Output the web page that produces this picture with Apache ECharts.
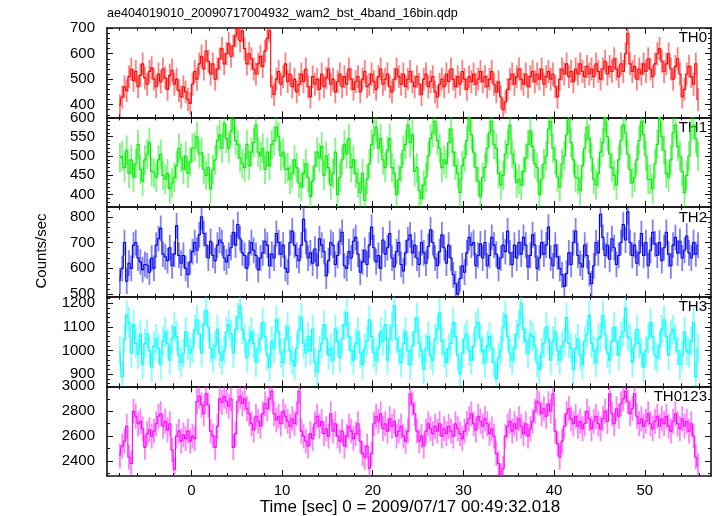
<!DOCTYPE html>
<html>
<head>
<meta charset="utf-8">
<script src="https://cdn.jsdelivr.net/npm/echarts@6/dist/echarts.min.js"></script>
<style>
html,body{margin:0;padding:0;background:#fff;}
#c{width:717px;height:516px;}
</style>
</head>
<body>
<div id="c"></div>
<script>
// ---- data ----
const TITLE = 'ae404019010_20090717004932_wam2_bst_4band_16bin.qdp';
const X_NAME = 'Time [sec] 0 = 2009/07/17 00:49:32.018';
const Y_NAME = 'Counts/sec';
const BAND_NAMES = ['TH0', 'TH1', 'TH2', 'TH3', 'TH0123'];
const T_START = -7.875;   // centre of first bin (s)
const BIN = 0.25;         // bin width (s)
const X_TICKS = [0, 10, 20, 30, 40, 50];
const X_MINOR = [-8,-6,-4,-2,2,4,6,8,12,14,16,18,22,24,26,28,32,34,36,38,42,44,46,48,52,54,56];
const Y_RANGES = [[350, 702], [368, 600], [490, 838], [849, 1228], [2280, 3000]];
const Y_TICKS = [
  [400, 500, 600, 700],
  [400, 450, 500, 550, 600],
  [500, 600, 700, 800],
  [900, 1000, 1100, 1200],
  [2400, 2600, 2800, 3000]
];
const Y_MINOR_STEP = [20, 10, 20, 20, 100];
const ERR = [45, 38, 50, 62, 100];

const TH0 = [
395,430,470,455,510,540,495,530,470,515,560,505,480,530,545,500,
470,520,490,540,505,460,515,535,480,500,455,430,470,450,420,405,
480,530,500,560,590,540,610,570,520,560,500,540,580,620,560,600,
640,590,630,670,700,650,690,620,560,600,580,540,520,560,590,550,
610,660,690,470,440,500,530,480,510,560,490,520,470,500,450,480,
520,490,540,470,430,510,480,500,460,520,470,505,540,480,500,450,
490,520,470,510,480,540,500,460,490,510,450,500,530,470,480,520,
490,460,510,540,480,500,520,470,450,500,540,510,480,520,470,500,
530,490,470,510,480,440,500,520,470,490,510,450,430,480,500,470,
520,490,540,500,470,510,480,530,500,460,510,490,520,480,500,530,
490,510,470,500,530,480,450,490,430,380,410,460,500,520,480,510,
540,500,480,520,470,510,530,490,520,500,540,480,510,530,500,520,
470,430,500,540,520,560,510,530,490,540,520,560,530,510,550,520,
540,510,560,530,500,540,570,520,550,530,580,540,510,560,530,600,
680,560,530,550,500,540,520,560,530,580,540,510,560,600,620,570,
530,560,600,540,500,550,580,520,430,460,520,550,510,480,560,420
];
const TH1 = [
495,500,470,515,455,490,445,480,530,465,435,490,505,535,460,455,
445,490,505,450,440,455,415,430,445,475,520,495,465,500,455,485,
520,525,550,505,510,465,450,470,415,465,490,540,555,520,585,545,
520,565,595,540,530,495,480,470,530,475,510,535,580,510,500,520,
465,510,475,530,540,575,550,500,510,465,470,440,455,490,470,430,
420,455,480,445,395,435,475,510,495,525,450,500,470,425,455,510,
400,445,490,530,505,545,470,490,455,430,405,455,385,440,480,530,
555,575,520,545,490,470,515,545,470,455,400,440,470,515,530,580,
535,555,460,470,410,390,425,445,500,545,560,590,540,520,470,490,
480,535,570,510,475,455,405,475,495,540,600,555,510,470,435,395,
445,470,520,560,590,530,520,455,425,450,505,530,580,505,480,430,
440,425,460,495,530,565,525,480,470,400,440,480,500,570,590,520,
490,445,420,480,500,555,595,535,490,445,440,410,475,520,575,545,
495,440,425,455,510,535,600,550,505,470,450,425,490,540,580,560,
505,465,430,445,490,540,590,555,500,440,440,415,480,530,600,550,
515,455,445,490,560,580,525,500,460,405,450,500,575,580,545,500
];
const TH2 = [
550,600,700,550,620,600,690,700,640,625,595,615,610,585,640,600,
690,715,755,655,645,630,680,610,655,765,650,620,650,600,575,625,
665,700,670,730,800,735,690,640,705,650,630,690,710,700,640,625,
650,680,740,690,770,715,660,650,600,660,700,670,650,595,640,660,
705,690,610,655,640,735,700,655,690,600,585,700,745,690,650,630,
690,790,705,640,660,620,675,610,715,690,665,570,630,700,690,615,
650,705,740,610,600,665,640,705,720,655,585,625,670,615,690,760,
680,625,650,600,710,655,680,735,640,605,665,700,615,590,660,710,
730,660,690,640,615,700,660,620,685,750,700,640,610,665,730,680,
620,690,640,575,540,500,560,610,585,660,720,690,700,610,650,695,
640,700,610,650,720,690,655,600,640,690,665,745,660,615,690,640,
700,655,720,690,605,650,730,690,600,640,700,655,690,760,640,610,
690,645,600,575,530,580,660,615,700,745,650,620,605,690,650,580,
540,610,700,660,810,720,650,690,635,715,680,615,650,700,770,710,
820,700,650,690,620,660,735,650,700,610,670,740,695,650,700,630,
680,740,655,610,690,720,660,705,640,670,725,660,640,700,655,690
];
const TH3 = [
1000,890,1050,1150,1120,990,1110,1030,985,1070,940,1030,1070,1000,930,1020,
1050,1010,940,1040,1080,1030,960,1050,1100,1060,980,950,990,1080,1020,990,
1010,1090,1130,1070,990,1110,1170,1100,1010,970,1020,1090,990,960,1000,1080,
1110,1070,990,1090,1140,1190,1090,1050,970,1040,1080,1030,950,1010,1050,1120,
1060,980,930,1040,1010,1130,1080,990,950,1050,1100,1000,960,935,1010,1090,
1140,1030,990,1060,1000,1090,950,910,1000,1030,1110,1050,980,1010,960,1090,
1040,970,1050,1110,1160,1060,1000,960,1030,1080,990,940,1010,1040,1130,1060,
990,960,1010,1080,1040,1110,960,1050,1100,1190,1050,1000,950,1030,1080,1000,
940,1020,1080,1140,1030,1000,920,1010,1060,980,960,1050,1090,1160,1040,990,
950,1010,1030,1120,1060,980,900,990,1050,1070,1000,960,1020,1100,1120,1050,
1000,950,1020,1060,1010,950,880,970,1000,1100,1150,1060,990,960,1010,1070,
1110,1200,1090,1040,990,1070,1060,1020,950,920,990,1030,1100,1050,960,1040,
1080,1000,960,1020,1040,1140,1030,1010,920,1010,1050,980,940,1040,1070,1150,
1030,1000,950,1050,1060,1150,1070,990,960,1040,1100,1040,980,1060,1080,1180,
1060,1050,950,1020,1090,1030,990,930,1000,1050,1120,1060,980,970,1020,1090,
1130,1060,980,1070,1090,1050,1000,940,980,1080,1000,990,1040,1120,890,1010
];
const TH0123 = [
2440,2520,2560,2680,2430,2380,2800,2760,2700,2720,2660,2510,2620,2650,2600,2640,
2700,2760,2780,2680,2720,2650,2700,2490,2330,2600,2640,2560,2610,2580,2640,2560,
2600,2580,2880,2920,2850,2780,2940,2850,2640,2600,2510,2680,2900,2870,2920,2880,
2840,2900,2510,2620,2880,2920,2860,2900,2820,2780,2700,2650,2760,2720,2680,2780,
2860,2820,2900,2960,2780,2730,2760,2700,2800,2760,2720,2680,2740,2700,2780,2960,
2640,2600,2560,2520,2620,2580,2700,2760,2680,2720,2620,2660,2600,2780,2640,2700,
2600,2560,2640,2520,2600,2680,2640,2580,2620,2700,2560,2460,2430,2520,2340,2460,
2700,2760,2720,2780,2660,2700,2640,2740,2680,2720,2600,2640,2680,2600,2560,2640,
2940,2860,2780,2640,2560,2600,2520,2640,2700,2660,2620,2680,2640,2700,2600,2660,
2620,2680,2640,2600,2700,2660,2620,2580,2640,2700,2740,2780,2700,2650,2760,2720,
2680,2740,2700,2620,2660,2600,2460,2380,2280,2340,2600,2680,2720,2640,2700,2660,
2740,2680,2620,2700,2600,2660,2720,2800,2880,2860,2780,2820,2760,2860,2800,2940,
2640,2540,2430,2560,2680,2780,2820,2740,2700,2760,2680,2720,2660,2700,2800,2740,
2660,2720,2760,2700,2660,2740,2800,2720,2940,2780,2700,2820,2760,2860,2900,2960,
2880,2780,2820,2940,2760,2700,2740,2680,2720,2780,2700,2660,2720,2760,2680,2740,
2700,2760,2680,2640,2720,2780,2700,2660,2740,2680,2720,2640,2700,2600,2430,2360
];
const BANDS = [TH0, TH1, TH2, TH3, TH0123];
const COLORS = ['#ff0000', '#00ee00', '#0000ee', '#00ffff', '#ff00ff'];

// ---- layout ----
const XMIN = -9.3, XMAX = 57.3;
const GRID_LEFT = 107, GRID_RIGHT = 6, TOP0 = 27.7, PANEL_H = 89.66;
const FONT = 'Liberation Sans, Arial, Helvetica, sans-serif';

const chart = echarts.init(document.getElementById('c'), null, {renderer: 'canvas'});

function minorVals(range, step, majors) {
  const out = [];
  const start = Math.ceil(range[0] / step) * step;
  for (let v = start; v <= range[1]; v += step) {
    if (majors.indexOf(v) < 0) out.push(v);
  }
  return out;
}
const plain = v => String(v);

const grids = [], xAxes = [], yAxes = [], series = [], graphics = [];
for (let g = 0; g < 5; g++) {
  const top = TOP0 + PANEL_H * g;
  grids.push({left: GRID_LEFT, right: GRID_RIGHT, top: top, height: PANEL_H, containLabel: false});
  const last = g === 4;
  const mkX = (pos, vals, len, major, label) => ({
    type: 'value', gridIndex: g, position: pos, min: XMIN, max: XMAX,
    axisLine: {show: major, onZero: false, lineStyle: {color: '#111', width: 1.6}},
    axisTick: {show: true, inside: true, length: len, customValues: vals, lineStyle: {color: '#111', width: 1}},
    axisLabel: {show: label, customValues: vals, formatter: plain, color: '#000', fontSize: 15, fontFamily: FONT, margin: 7},
    splitLine: {show: false}
  });
  xAxes.push(mkX('bottom', X_TICKS, 6, true, last));
  xAxes.push(mkX('bottom', X_MINOR, 3, false, false));
  xAxes.push(mkX('top', X_TICKS, 6, true, false));
  xAxes.push(mkX('top', X_MINOR, 3, false, false));
  const yr = Y_RANGES[g];
  const ymin = minorVals(yr, Y_MINOR_STEP[g], Y_TICKS[g]);
  const mkY = (pos, vals, len, major, label) => ({
    type: 'value', gridIndex: g, position: pos, min: yr[0], max: yr[1],
    axisLine: {show: major, onZero: false, lineStyle: {color: '#111', width: 1.6}},
    axisTick: {show: true, inside: true, length: len, customValues: vals, lineStyle: {color: '#111', width: 1}},
    axisLabel: {show: label, customValues: vals, formatter: plain, color: '#000', fontSize: 15, fontFamily: FONT, margin: 12},
    splitLine: {show: false}
  });
  yAxes.push(mkY('left', Y_TICKS[g], 6, true, true));
  yAxes.push(mkY('left', ymin, 3, false, false));
  yAxes.push(mkY('right', Y_TICKS[g], 6, true, false));
  yAxes.push(mkY('right', ymin, 3, false, false));

  const vals = BANDS[g];
  const lineData = vals.map((v, i) => [T_START + BIN * i, v]);
  const errData = vals.map((v, i) => [T_START + BIN * i, v, ERR[g]]);
  const col = COLORS[g];
  series.push({
    type: 'custom', xAxisIndex: 4 * g, yAxisIndex: 4 * g, clip: true, z: 2,
    data: errData, encode: {x: 0, y: 1},
    renderItem: function (params, api) {
      const t = api.value(0), v = api.value(1), e = api.value(2);
      const p1 = api.coord([t, v - e]);
      const p2 = api.coord([t, v + e]);
      return {type: 'line', shape: {x1: p1[0], y1: p1[1], x2: p2[0], y2: p2[1]},
        style: {stroke: col, lineWidth: 1.8, opacity: 0.5}};
    }
  });
  series.push({
    type: 'line', xAxisIndex: 4 * g, yAxisIndex: 4 * g, step: 'middle', z: 3,
    data: lineData, showSymbol: false, symbol: 'none', clip: true,
    lineStyle: {color: col, width: 1.1}
  });
  graphics.push({type: 'text', right: 10, top: top + 3,
    style: {text: BAND_NAMES[g], fill: '#000', font: '15px ' + FONT, textAlign: 'right'}});
}

graphics.push({type: 'text', left: 107, top: 7,
  style: {text: TITLE, fill: '#000', font: '12.6px ' + FONT}});
graphics.push({type: 'text', x: 410, y: 507,
  style: {text: X_NAME, fill: '#000', font: '17px ' + FONT, textAlign: 'center', textVerticalAlign: 'middle'}});
graphics.push({type: 'text', x: 42, y: 251, rotation: Math.PI / 2,
  style: {text: Y_NAME, fill: '#000', font: '15px ' + FONT, textAlign: 'center', textVerticalAlign: 'middle'}});

chart.setOption({
  animation: false,
  backgroundColor: '#fff',
  grid: grids,
  xAxis: xAxes,
  yAxis: yAxes,
  series: series,
  graphic: graphics
});
</script>
</body>
</html>
